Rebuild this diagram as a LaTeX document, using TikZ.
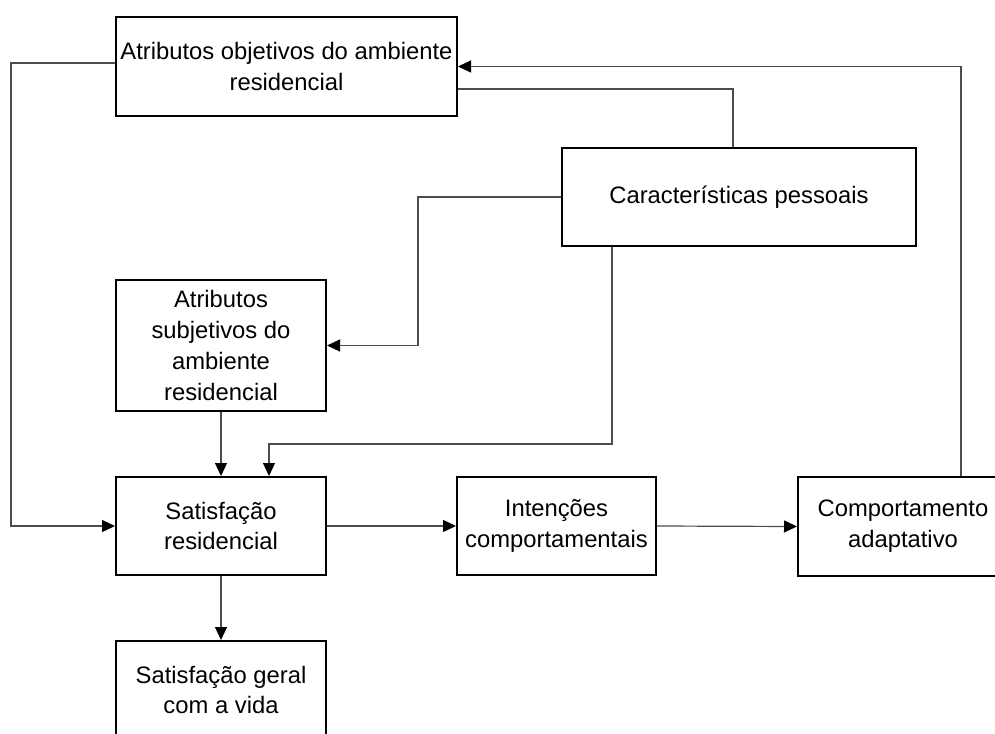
\documentclass[tikz,border=0pt]{standalone}
\usepackage{fontspec}
\setmainfont{Liberation Sans}
\usetikzlibrary{arrows.meta}
\begin{document}
\begin{tikzpicture}[x=1pt,y=-1pt,
  box/.style={draw=black,line width=2pt,align=center,inner sep=0pt,
    font=\fontsize{23.8}{30.7}\selectfont},
  link/.style={draw=black!70,line width=1.2pt},
  arr/.style={link,-{Triangle[length=13pt,width=12pt,color=black]}}]
\useasboundingbox (0,0) rectangle (995,733);
\clip (0,0) rectangle (995,733);
\node[box,minimum width=341pt,minimum height=99pt] (A) at (286.5,66.5) {Atributos objetivos do ambiente\\residencial};
\node[box,minimum width=354pt,minimum height=98pt] (C) at (739,197) {Características pessoais};
\node[box,minimum width=210pt,minimum height=131pt] (D) at (221,345.5) {Atributos\\subjetivos do\\ambiente\\residencial};
\node[box,minimum width=210pt,minimum height=98pt] (E) at (221,526) {Satisfação\\residencial};
\node[box,minimum width=210pt,minimum height=98pt] (F) at (221,690) {Satisfação geral\\com a vida};
\node[box,minimum width=199pt,minimum height=98pt] (G) at (556.5,526) {Intenções\\comportamentais};
\node[box,minimum width=210pt,minimum height=99pt] (H) at (903,526.5) {Comportamento\\adaptativo};
% connectors
\draw[arr] ([yshift=3.5pt]A.west) -- ++(-104,0) |- (E.west);
\draw[arr] ([xshift=58pt]H.north) |- (A.east);
\draw[link] ([xshift=-6pt]C.north) |- ([yshift=-22.5pt]A.east);
\draw[arr] (C.west) -- ++(-143,0) |- (D.east);
\draw[arr] ([xshift=-127pt]C.south) -- ++(0,197) -| ([xshift=48pt]E.north);
\draw[arr] (D.south) -- (E.north);
\draw[arr] (E.south) -- (F.north);
\draw[arr] (E.east) -- (G.west);
\draw[arr] (G.east) -- (H.west);
\end{tikzpicture}
\end{document}
